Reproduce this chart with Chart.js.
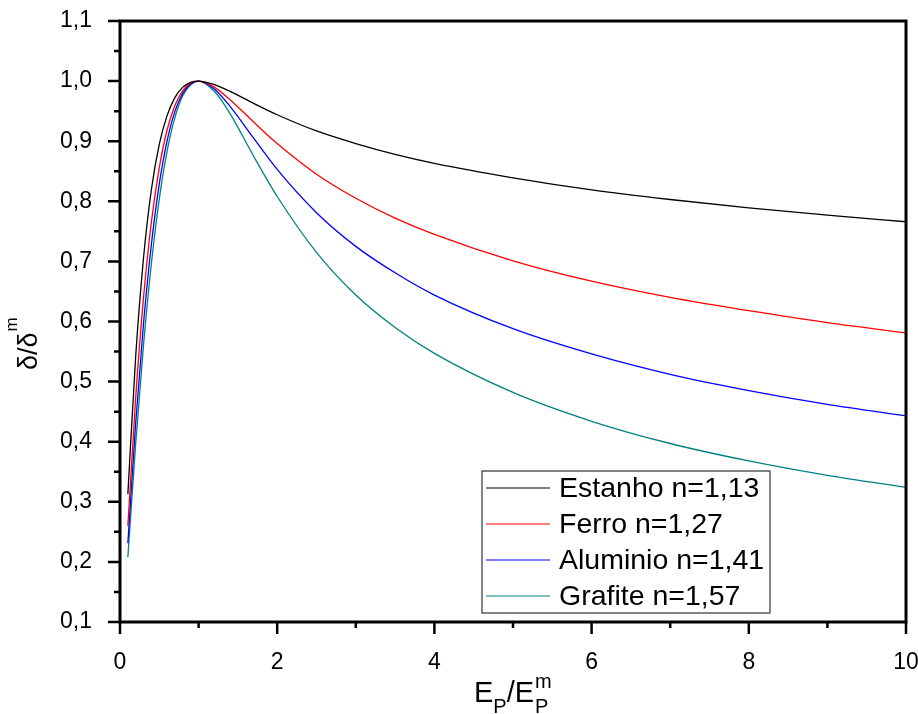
<!DOCTYPE html>
<html lang="pt">
<head>
<meta charset="UTF-8">
<title>Curva universal de emissão secundária</title>
<script src="https://cdn.jsdelivr.net/npm/chart.js"></script>
<style>
  body { margin: 0; background: #fff; }
  #wrap { width: 918px; height: 714px; }
</style>
</head>
<body>
<div id="wrap"><canvas id="chart" width="918" height="714"></canvas></div>
<script>
// E_P / E_P^m
const xs = [0.1, 0.2, 0.3, 0.4, 0.5, 0.6, 0.7, 0.8, 0.9, 1.0, 1.2, 1.4, 1.7, 2, 2.5, 3, 3.5, 4, 5, 6, 7, 8, 9, 10];

// delta / delta^m
const estanho  = [0.313, 0.543, 0.707, 0.820, 0.895, 0.943, 0.973, 0.990, 0.998, 1.000, 0.994, 0.983, 0.963, 0.944, 0.917, 0.896, 0.878, 0.863, 0.839, 0.819, 0.803, 0.789, 0.777, 0.766];
const ferro    = [0.260, 0.474, 0.641, 0.766, 0.856, 0.919, 0.960, 0.984, 0.997, 1.000, 0.990, 0.969, 0.932, 0.896, 0.845, 0.805, 0.772, 0.745, 0.701, 0.667, 0.640, 0.618, 0.598, 0.581];
const aluminio = [0.231, 0.432, 0.598, 0.729, 0.829, 0.901, 0.950, 0.980, 0.995, 1.000, 0.987, 0.958, 0.905, 0.853, 0.781, 0.725, 0.681, 0.644, 0.588, 0.546, 0.512, 0.485, 0.462, 0.443];
const grafite  = [0.208, 0.398, 0.562, 0.697, 0.804, 0.884, 0.940, 0.976, 0.994, 1.000, 0.983, 0.946, 0.875, 0.808, 0.715, 0.644, 0.590, 0.547, 0.482, 0.434, 0.397, 0.368, 0.344, 0.324];

const labels = ['Estanho n=1,13', 'Ferro n=1,27', 'Aluminio n=1,41', 'Grafite n=1,57'];
const colors = ['#000000', '#ff0000', '#0000ff', '#008080'];

const xMajor = [0, 2, 4, 6, 8, 10];
const xMinor = [1, 3, 5, 7, 9];

const FONT = '"Liberation Sans", Arial, sans-serif';

function pts(ys) {
  return xs.map((x, i) => ({ x: x, y: ys[i] }));
}

// frame, tick marks, axis titles and legend box
const decor = {
  id: 'decor',
  afterDraw(chart) {
    const ctx = chart.ctx;
    const a = chart.chartArea;
    const sx = chart.scales.x, sy = chart.scales.y;
    ctx.save();

    // ticks
    ctx.strokeStyle = '#000';
    ctx.lineWidth = 2.5;
    ctx.beginPath();
    for (let i = 1; i <= 11; i++) {
      const py = sy.getPixelForValue(i / 10);
      ctx.moveTo(a.left - 12, py); ctx.lineTo(a.left, py);
    }
    for (let i = 1; i <= 10; i++) {
      const py = sy.getPixelForValue(i / 10 + 0.05);
      ctx.moveTo(a.left - 6, py); ctx.lineTo(a.left, py);
    }
    xMajor.forEach(v => {
      const px = sx.getPixelForValue(v);
      ctx.moveTo(px, a.bottom); ctx.lineTo(px, a.bottom + 12);
    });
    xMinor.forEach(v => {
      const px = sx.getPixelForValue(v);
      ctx.moveTo(px, a.bottom); ctx.lineTo(px, a.bottom + 6);
    });
    ctx.stroke();

    // frame
    ctx.lineWidth = 3;
    ctx.strokeRect(a.left, a.top, a.right - a.left, a.bottom - a.top);

    // legend
    const lx = 482, ly = 471, lw = 288, lh = 142;
    ctx.fillStyle = '#fff';
    ctx.fillRect(lx, ly, lw, lh);
    ctx.lineWidth = 1.2;
    ctx.strokeStyle = '#333';
    ctx.strokeRect(lx, ly, lw, lh);
    ctx.font = '28.5px ' + FONT;
    ctx.textBaseline = 'middle';
    ctx.textAlign = 'left';
    labels.forEach((t, i) => {
      const yy = 488 + i * 36;
      ctx.strokeStyle = colors[i];
      ctx.lineWidth = 1.2;
      ctx.beginPath();
      ctx.moveTo(486, yy); ctx.lineTo(550, yy);
      ctx.stroke();
      ctx.fillStyle = '#000';
      ctx.fillText(t, 559, yy + 1);
    });

    // x title: E_P / E_P^m
    ctx.fillStyle = '#000';
    ctx.textBaseline = 'alphabetic';
    let x = 474;
    const big = '29px ' + FONT, small = '20px ' + FONT;
    ctx.font = big; ctx.fillText('E', x, 702); x += ctx.measureText('E').width;
    ctx.font = small; ctx.fillText('P', x, 713); x += ctx.measureText('P').width;
    ctx.font = big; ctx.fillText('/', x, 702); x += ctx.measureText('/').width;
    ctx.fillText('E', x, 702); x += ctx.measureText('E').width + 1;
    ctx.font = small; ctx.fillText('P', x, 713); ctx.fillText('m', x, 688);

    // y title: delta / delta^m (rotated)
    ctx.translate(37, 370);
    ctx.rotate(-Math.PI / 2);
    ctx.font = '27px ' + FONT;
    ctx.fillText('δ/δ', 0, 0);
    const w = ctx.measureText('δ/δ').width;
    ctx.font = '17px ' + FONT;
    ctx.fillText('m', w + 1, -20);

    ctx.restore();
  }
};

new Chart(document.getElementById('chart'), {
  type: 'line',
  data: {
    datasets: [estanho, ferro, aluminio, grafite].map((ys, i) => ({
      label: labels[i],
      data: pts(ys),
      borderColor: colors[i],
      borderWidth: 1.3,
      pointRadius: 0,
      fill: false,
      cubicInterpolationMode: 'monotone'
    }))
  },
  options: {
    responsive: false,
    animation: false,
    layout: { padding: { top: 21, right: 12, left: 0, bottom: 0 } },
    plugins: { legend: { display: false }, tooltip: { enabled: false } },
    scales: {
      x: {
        type: 'linear',
        min: 0, max: 10,
        grid: { display: false },
        border: { display: false },
        afterFit: s => { s.height = 92; s.paddingLeft = 0; s.paddingRight = 0; },
        ticks: {
          stepSize: 2,
          padding: 19,
          maxRotation: 0,
          color: '#000',
          font: { family: FONT, size: 23 }
        }
      },
      y: {
        min: 0.1, max: 1.1,
        grid: { display: false },
        border: { display: false },
        afterFit: s => { s.width = 120; s.paddingTop = 0; s.paddingBottom = 0; },
        ticks: {
          stepSize: 0.1,
          padding: 20,
          color: '#000',
          font: { family: FONT, size: 23 },
          callback: v => v.toFixed(1).replace('.', ',')
        }
      }
    }
  },
  plugins: [decor]
});
</script>
</body>
</html>
